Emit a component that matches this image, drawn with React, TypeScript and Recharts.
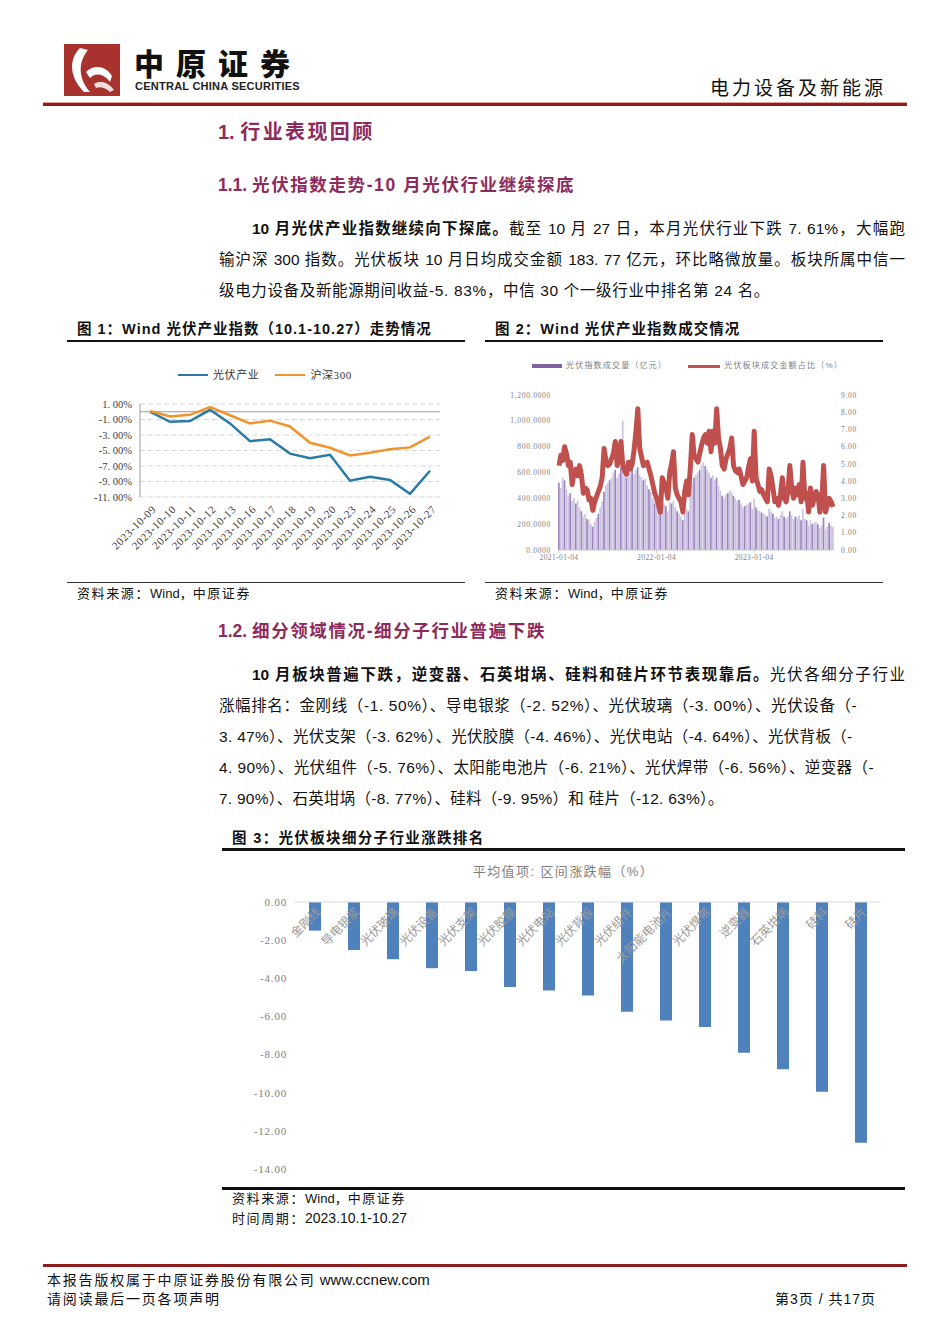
import React from "react";
import {
  LineChart,
  Line,
  XAxis,
  YAxis,
  CartesianGrid,
  ReferenceLine,
  ComposedChart,
  Bar,
  BarChart,
  Cell,
} from "recharts";

// ---- 图1 数据 ----
const c1Dates = [
  "2023-10-09", "2023-10-10", "2023-10-11", "2023-10-12", "2023-10-13",
  "2023-10-16", "2023-10-17", "2023-10-18", "2023-10-19", "2023-10-20",
  "2023-10-23", "2023-10-24", "2023-10-25", "2023-10-26", "2023-10-27",
];
const c1Pv = [0.0, -1.3, -1.2, 0.25, -1.5, -3.8, -3.55, -5.4, -6.0, -5.55, -8.9, -8.4, -8.8, -10.6, -7.61];
const c1Hs = [0.1, -0.6, -0.4, 0.6, -0.45, -1.5, -1.15, -1.9, -4.0, -4.65, -5.65, -5.3, -4.85, -4.6, -3.2];
const c1Ticks = [1, -1, -3, -5, -7, -9, -11];

// ---- 图2 数据（周度）----
const vol2021 = [
  520, 480, 560, 540, 470, 420, 440, 380, 400, 360, 380, 330, 300, 260, 280, 240, 230, 200, 180, 220,
  250, 280, 330, 380, 450, 500, 520, 540, 560, 600, 620, 560, 590, 640, 1000, 600, 560, 580, 600, 620,
  590, 620, 640, 580, 560, 540, 550, 500, 470, 450, 400, 360,
];
const vol2022 = [
  330, 300, 280, 350, 360, 340, 300, 370, 360, 380, 330, 300, 280, 260, 230, 290, 320, 300, 420, 520,
  560, 580, 600, 620, 660, 680, 650, 620, 600, 560, 580, 540, 560, 500, 460, 420, 400, 430, 440, 460,
  450, 420, 400, 380, 390, 360, 330, 340, 350, 360, 370, 320,
];
const vol2023 = [
  400, 330, 310, 300, 290, 280, 270, 260, 320, 300, 280, 250, 260, 240, 270, 300, 260, 240, 260, 300,
  270, 240, 260, 250, 270, 230, 320, 240, 230, 190, 230, 200, 210, 220, 200, 170, 190, 250, 160, 180,
  210, 190, 180,
];
const ratio2021 = [
  4.9, 5.5, 5.2, 6.0, 5.6, 4.9, 5.1, 3.8, 4.5, 4.7, 4.3, 4.9, 4.3, 3.3, 3.6, 3.5, 2.9, 3.0, 2.3, 2.8,
  3.1, 3.4, 3.7, 4.2, 5.9, 5.2, 4.9, 5.0, 5.3, 5.6, 6.3, 4.9, 5.4, 6.3, 4.9, 4.6, 4.4, 5.1, 4.7, 5.0,
  5.8, 6.9, 8.2, 5.9, 5.4, 4.9, 5.0, 5.1, 4.7, 4.3, 3.8, 3.3,
];
const ratio2022 = [
  3.0, 2.6, 2.2, 4.2, 3.9, 3.6, 3.0, 4.5, 5.0, 5.7, 3.6, 3.2, 3.0, 2.8, 2.2, 3.4, 4.0, 3.2, 4.8, 6.7,
  5.5, 5.3, 5.1, 5.6, 6.1, 6.5, 6.7, 6.2, 6.9, 5.7, 6.9, 6.2, 8.2, 6.5, 5.9, 4.9, 4.7, 5.3, 5.6, 5.9,
  6.5, 4.9, 4.6, 4.5, 4.7, 4.3, 3.8, 4.0, 4.2, 4.8, 5.3, 4.0,
];
const ratio2023 = [
  6.9, 4.2, 3.8, 3.4, 3.5, 3.2, 3.0, 2.8, 4.7, 4.3, 3.6, 2.8, 3.0, 2.6, 3.2, 4.2, 3.0, 2.8, 3.4, 4.9,
  3.6, 3.0, 3.6, 3.2, 3.8, 2.8, 5.1, 3.0, 3.3, 2.2, 3.6, 2.6, 3.0, 3.4, 3.2, 2.2, 2.8, 4.9, 2.2, 2.6,
  3.0, 2.8, 2.5,
];
const c2TickIdx = [0, 52, 104];
const c2TickLabels = ["2021-01-04", "2022-01-04", "2023-01-04"];
const c2LeftTicks = [0, 200, 400, 600, 800, 1000, 1200];
const c2RightTicks = [0, 1, 2, 3, 4, 5, 6, 7, 8, 9];

// ---- 图3 数据 ----
const c3Names = [
  "金刚线", "导电银浆", "光伏玻璃", "光伏设备", "光伏支架", "光伏胶膜", "光伏电站", "光伏背板",
  "光伏组件", "太阳能电池片", "光伏焊带", "逆变器", "石英坩埚", "硅料", "硅片",
];
const c3Values = [-1.5, -2.52, -3.0, -3.47, -3.62, -4.46, -4.64, -4.9, -5.76, -6.21, -6.56, -7.9, -8.77, -9.95, -12.63];
const c3Ticks = [0, -2, -4, -6, -8, -10, -12, -14];

const c1Data = c1Dates.map((d, i) => ({ d, pv: c1Pv[i], hs: c1Hs[i] }));
const volAll = [...vol2021, ...vol2022, ...vol2023];
const ratioAll = [...ratio2021, ...ratio2022, ...ratio2023];
const c2Data = volAll.map((v, i) => ({ i, v, r: ratioAll[i] }));
const c3Data = c3Names.map((n, i) => ({ n, v: c3Values[i] }));

const SANS = '"Liberation Sans", "Noto Sans CJK SC", sans-serif';
const SERIF = '"Liberation Serif", "Noto Sans CJK SC", serif';
const MAROON = "#8e2b5c";

const abs = (left: number, top: number, extra: React.CSSProperties = {}): React.CSSProperties => ({
  position: "absolute",
  left,
  top,
  whiteSpace: "nowrap",
  ...extra,
});

function TextLine({ x, y, w, size = 15.5, ls = 0, justify, children }: any) {
  return (
    <div
      style={abs(x, y - 11, {
        width: w,
        fontSize: size,
        lineHeight: "22px",
        letterSpacing: ls,
        color: "#111",
        textAlign: justify ? "justify" : "left",
        textAlignLast: justify ? "justify" : "left",
        whiteSpace: "normal",
      })}
    >
      {children}
    </div>
  );
}

function C1Tick({ x, y, payload }: any) {
  return (
    <text
      x={x + 4}
      y={y + 2}
      textAnchor="end"
      dominantBaseline="central"
      transform={`rotate(-45 ${x + 4} ${y + 2})`}
      fontSize={11}
      letterSpacing={0.6}
      fill="#404040"
      fontFamily={SERIF}
    >
      {payload.value}
    </text>
  );
}

function C3Tick({ x, y, payload }: any) {
  return (
    <text
      x={x + 4}
      y={y + 8}
      textAnchor="end"
      dominantBaseline="central"
      transform={`rotate(-45 ${x + 4} ${y + 8})`}
      fontSize={12}
      fill="#9a9a9a"
      fontFamily={SANS}
    >
      {payload.value}
    </text>
  );
}

function Chart1() {
  return (
    <LineChart width={398} height={235} data={c1Data} margin={{ top: 59, right: 25, bottom: 13, left: 0 }}>
      <CartesianGrid vertical={false} stroke="#d9d9d9" strokeDasharray="5 3" />
      <XAxis
        dataKey="d"
        interval={0}
        height={70}
        axisLine={false}
        tickLine={false}
        padding={{ left: 10, right: 10 }}
        tick={(p: any) => <C1Tick {...p} />}
      />
      <YAxis
        domain={[-11, 1]}
        ticks={c1Ticks}
        interval={0}
        width={73}
        axisLine={{ stroke: "#9a9a9a" }}
        tickLine={false}
        tickFormatter={(v: number) => `${v.toFixed(2).replace(".", ". ")}%`}
        tick={{ fontSize: 10.5, fill: "#404040", fontFamily: SERIF }}
      />
      <ReferenceLine y={0} stroke="#9a9a9a" />
      <Line dataKey="pv" stroke="#2a7aa6" strokeWidth={2.5} dot={false} isAnimationActive={false} />
      <Line dataKey="hs" stroke="#f0952d" strokeWidth={2.5} dot={false} isAnimationActive={false} />
    </LineChart>
  );
}

function Chart2() {
  return (
    <ComposedChart width={398} height={232} data={c2Data} margin={{ top: 45, right: 5, bottom: 12, left: 0 }}>
      <XAxis
        dataKey="i"
        type="number"
        domain={[0, 146]}
        ticks={c2TickIdx}
        interval={0}
        tickFormatter={(v: number) => c2TickLabels[c2TickIdx.indexOf(v)]}
        height={20}
        axisLine={{ stroke: "#c8c8c8" }}
        tickLine={{ stroke: "#c8c8c8" }}
        tickSize={3}
        tick={{ fontSize: 7.5, fill: "#808080", fontFamily: SERIF, letterSpacing: 0.4 }}
      />
      <YAxis
        yAxisId="l"
        domain={[0, 1200]}
        ticks={c2LeftTicks}
        interval={0}
        width={74}
        axisLine={false}
        tickLine={false}
        tickFormatter={(v: number) => v.toLocaleString("en-US") + ".0000"}
        tick={{ fontSize: 7.5, fill: "#808080", fontFamily: SERIF, letterSpacing: 0.7 }}
      />
      <YAxis
        yAxisId="r"
        orientation="right"
        domain={[0, 9]}
        ticks={c2RightTicks}
        interval={0}
        width={45}
        axisLine={false}
        tickLine={false}
        tickFormatter={(v: number) => v.toFixed(2)}
        tick={{ fontSize: 7.5, fill: "#808080", fontFamily: SERIF, letterSpacing: 0.7 }}
      />
      <Bar yAxisId="l" dataKey="v" barSize={2} isAnimationActive={false}>
        {c2Data.map((e) => (
          <Cell key={e.i} fill={e.i % 3 === 0 ? "#9a84bb" : "#cdc2e2"} />
        ))}
      </Bar>
      <Line yAxisId="r" dataKey="r" stroke="#c0504d" strokeWidth={5} strokeLinejoin="round" dot={false} isAnimationActive={false} />
    </ComposedChart>
  );
}

function Chart3() {
  return (
    <BarChart width={683} height={337} data={c3Data} margin={{ top: 31, right: 25, bottom: 19, left: 0 }}>
      <XAxis
        dataKey="n"
        orientation="top"
        height={20}
        interval={0}
        axisLine={{ stroke: "#d9d9d9" }}
        tickLine={false}
        tickSize={0}
        tickMargin={0}
        tick={(p: any) => <C3Tick {...p} />}
      />
      <YAxis
        domain={[-14, 0]}
        ticks={c3Ticks}
        interval={0}
        width={73}
        axisLine={false}
        tickLine={false}
        tickFormatter={(v: number) => v.toFixed(2)}
        tick={{ fontSize: 11, fill: "#808080", fontFamily: SERIF, letterSpacing: 0.8 }}
      />
      <Bar dataKey="v" fill="#4f81bd" barSize={12} isAnimationActive={false} />
    </BarChart>
  );
}

const capStyle = (ls: number): React.CSSProperties => ({ fontSize: 14.5, fontWeight: 700, lineHeight: "18px", letterSpacing: ls });
const srcStyle: React.CSSProperties = { fontSize: 13, lineHeight: "16px" };
const cj: React.CSSProperties = { letterSpacing: 1.6 };

export default function App() {
  return (
    <div
      style={{
        position: "absolute",
        left: 0,
        top: 0,
        width: 950,
        height: 1344,
        background: "#fff",
        fontFamily: SANS,
        color: "#111",
        overflow: "hidden",
      }}
    >
      {/* 页眉 */}
      <svg style={abs(64, 44)} width={56} height={52}>
        <rect width={56} height={52} fill="#a8332e" />
        <path d="M16 4 C4 16 6 34 20 48 L26 48 C14 34 14 18 24 6 Z" fill="#fff" />
        <path d="M22 28 C30 20 42 22 48 32 L46 38 C40 30 32 28 26 34 Z" fill="#fff" />
        <path d="M30 40 C36 36 44 38 50 46 L46 48 C42 44 36 42 32 44 Z" fill="#f3dede" />
      </svg>
      <div style={abs(134, 46, { fontSize: 30, fontWeight: 900, letterSpacing: 12, lineHeight: "38px", color: "#111" })}>
        中原证券
      </div>
      <div style={abs(135, 80, { fontSize: 11, fontWeight: 700, lineHeight: "13px", letterSpacing: 0.25, color: "#222" })}>
        CENTRAL CHINA SECURITIES
      </div>
      <div style={abs(710, 76, { fontSize: 19, letterSpacing: 3, lineHeight: "26px", color: "#111" })}>电力设备及新能源</div>
      <div style={abs(43, 102, { width: 864, height: 1, background: "#e4a3a3" })} />
      <div style={abs(43, 103, { width: 864, height: 3, background: "#8f1d1d" })} />

      {/* 1. 标题 */}
      <div style={abs(218, 120, { fontSize: 20, fontWeight: 700, color: MAROON, lineHeight: "24px" })}>
        1. <span style={{ letterSpacing: 2.4 }}>行业表现回顾</span>
      </div>
      <div style={abs(218, 174, { fontSize: 17.5, fontWeight: 700, color: MAROON, lineHeight: "22px" })}>
        1.1. <span style={{ letterSpacing: 1.6 }}>光伏指数走势-10 月光伏行业继续探底</span>
      </div>

      <TextLine x={252} y={229} w={653} justify>
        <b>10 月光伏产业指数继续向下探底。</b>截至 10 月 27 日，本月光伏行业下跌 7. 61%，大幅跑
      </TextLine>
      <TextLine x={219} y={260} w={686} justify>
        输沪深 300 指数。光伏板块 10 月日均成交金额 183. 77 亿元，环比略微放量。板块所属中信一
      </TextLine>
      <TextLine x={219} y={291} w={700} ls={0.65}>
        级电力设备及新能源期间收益-5. 83%，中信 30 个一级行业中排名第 24 名。
      </TextLine>

      {/* 图1 / 图2 标题 */}
      <div style={abs(77, 320, capStyle(1))}>图 1：Wind 光伏产业指数（10.1-10.27）走势情况</div>
      <div style={abs(67, 340, { width: 398, height: 2, background: "#111" })} />
      <div style={abs(495, 320, capStyle(1.05))}>图 2：Wind 光伏产业指数成交情况</div>
      <div style={abs(485, 340, { width: 398, height: 2, background: "#111" })} />

      {/* 图1 */}
      <div style={abs(67, 345)}>
        <Chart1 />
      </div>
      <div style={abs(178, 367, { fontSize: 11, lineHeight: "16px", color: "#333", display: "flex", alignItems: "center", letterSpacing: 0.6 })}>
        <span style={{ display: "inline-block", width: 30, height: 2.5, background: "#2a7aa6", marginRight: 5 }} />
        光伏产业
        <span style={{ display: "inline-block", width: 30, height: 2.5, background: "#f0952d", margin: "0 5px 0 16px" }} />
        <span style={{ fontFamily: SERIF }}>沪深300</span>
      </div>

      {/* 图2 */}
      <div style={abs(485, 350)}>
        <Chart2 />
      </div>
      <div style={abs(532, 360, { fontSize: 8, lineHeight: "12px", color: "#808080", display: "flex", alignItems: "center", letterSpacing: 1.2 })}>
        <span style={{ display: "inline-block", width: 30, height: 4, background: "#8064a2", marginRight: 4 }} />
        光伏指数成交量（亿元）
        <span style={{ display: "inline-block", width: 32, height: 3, background: "#c0504d", margin: "0 4px 0 21px" }} />
        光伏板块成交金额占比（%）
      </div>

      <div style={abs(67, 582, { width: 398, height: 1, background: "#333" })} />
      <div style={abs(485, 582, { width: 398, height: 1, background: "#333" })} />
      <div style={abs(77, 586, srcStyle)}>
        <span style={cj}>资料来源：</span>Wind，<span style={cj}>中原证券</span>
      </div>
      <div style={abs(495, 586, srcStyle)}>
        <span style={cj}>资料来源：</span>Wind，<span style={cj}>中原证券</span>
      </div>

      {/* 1.2 */}
      <div style={abs(218, 620, { fontSize: 17.5, fontWeight: 700, color: MAROON, lineHeight: "22px" })}>
        1.2. <span style={{ letterSpacing: 1.6 }}>细分领域情况-细分子行业普遍下跌</span>
      </div>
      <TextLine x={252} y={675} w={653} justify>
        <b>10 月板块普遍下跌，逆变器、石英坩埚、硅料和硅片环节表现靠后。</b>光伏各细分子行业
      </TextLine>
      <TextLine x={219} y={706} w={700} ls={0.6}>
        涨幅排名：金刚线（-1. 50%）、导电银浆（-2. 52%）、光伏玻璃（-3. 00%）、光伏设备（-
      </TextLine>
      <TextLine x={219} y={737} w={700} ls={0.3}>
        3. 47%）、光伏支架（-3. 62%）、光伏胶膜（-4. 46%）、光伏电站（-4. 64%）、光伏背板（-
      </TextLine>
      <TextLine x={219} y={768} w={700} ls={0.4}>
        4. 90%）、光伏组件（-5. 76%）、太阳能电池片（-6. 21%）、光伏焊带（-6. 56%）、逆变器（-
      </TextLine>
      <TextLine x={219} y={799} w={700} ls={0.25}>
        7. 90%）、石英坩埚（-8. 77%）、硅料（-9. 95%）和 硅片（-12. 63%）。
      </TextLine>

      {/* 图3 */}
      <div style={abs(232, 829, capStyle(1.35))}>图 3：光伏板块细分子行业涨跌排名</div>
      <div style={abs(222, 848, { width: 683, height: 2.5, background: "#111" })} />
      <div style={abs(222, 863, { width: 683, textAlign: "center", fontSize: 13, lineHeight: "18px", color: "#7f7f7f", letterSpacing: 1.4 })}>
        平均值项: 区间涨跌幅（%）
      </div>
      <div style={abs(222, 851)}>
        <Chart3 />
      </div>
      <div style={abs(222, 1187, { width: 683, height: 2.5, background: "#111" })} />
      <div style={abs(232, 1191, srcStyle)}>
        <span style={cj}>资料来源：</span>Wind，<span style={cj}>中原证券</span>
      </div>
      <div style={abs(232, 1210, srcStyle)}>
        <span style={cj}>时间周期：</span>
        <span style={{ fontSize: 14 }}>2023.10.1-10.27</span>
      </div>

      {/* 页脚 */}
      <div style={abs(43, 1264, { width: 864, height: 3, background: "#8f1d1d" })} />
      <div style={abs(47, 1271, { fontSize: 14, lineHeight: "17px" })}>
        <span style={{ letterSpacing: 1.8 }}>本报告版权属于中原证券股份有限公司</span>
        <span style={{ fontSize: 15 }}> www.ccnew.com</span>
      </div>
      <div style={abs(47, 1291, { fontSize: 14, lineHeight: "17px", letterSpacing: 1.8 })}>请阅读最后一页各项声明</div>
      <div style={abs(775, 1291, { fontSize: 14, lineHeight: "17px", letterSpacing: 1 })}>第3页 / 共17页</div>
    </div>
  );
}
